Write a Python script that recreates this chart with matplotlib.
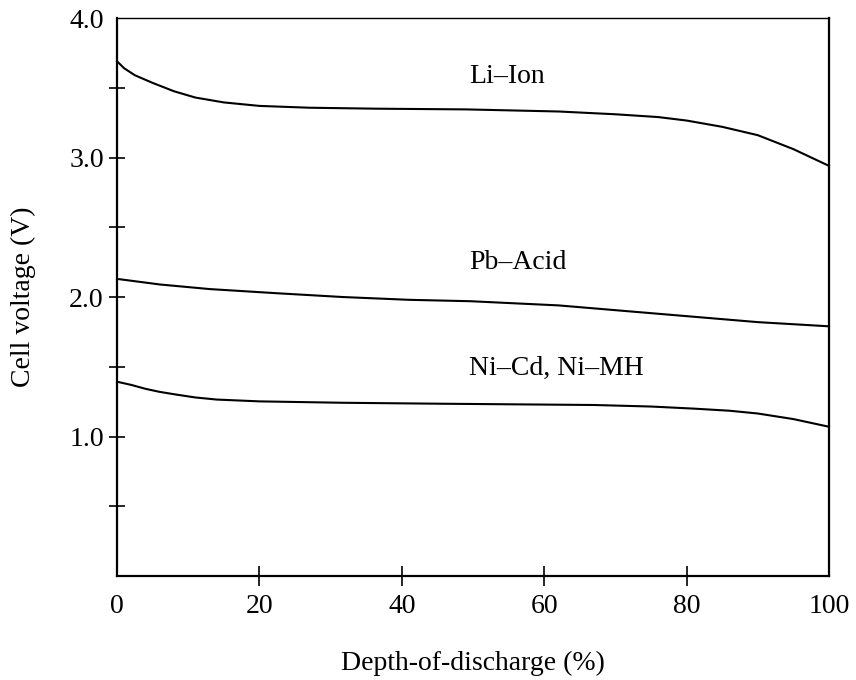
import matplotlib
matplotlib.use("Agg")
import matplotlib.pyplot as plt

# Datos: profundidad de descarga (%) y tensión de celda (V)
li_x = [0, 1, 2.5, 5, 8, 11, 15, 20, 27, 36.5, 49, 62, 70, 76, 80, 85, 90, 95, 100]
li_v = [3.69, 3.64, 3.59, 3.535, 3.475, 3.43, 3.395, 3.37, 3.357, 3.35, 3.345, 3.33,
        3.31, 3.29, 3.265, 3.22, 3.16, 3.06, 2.94]

pb_x = [0, 6, 13, 22.5, 31.7, 41, 49.6, 62, 76, 90, 100]
pb_v = [2.13, 2.09, 2.057, 2.027, 2.00, 1.98, 1.97, 1.94, 1.88, 1.82, 1.79]

ni_x = [0, 2, 4, 6, 8.4, 11, 14, 20, 31.7, 45.8, 67, 75, 81, 86, 90, 95, 100]
ni_v = [1.393, 1.37, 1.342, 1.32, 1.30, 1.28, 1.265, 1.252, 1.242, 1.235, 1.226,
        1.215, 1.20, 1.185, 1.165, 1.125, 1.07]

names = ["Li–Ion", "Pb–Acid", "Ni–Cd, Ni–MH"]
name_pos = [(49.5, 3.58), (49.5, 2.25), (49.5, 1.49)]

x_ticks = [0, 20, 40, 60, 80, 100]
y_major = [1.0, 2.0, 3.0, 4.0]
y_minor = [0.5, 1.5, 2.5, 3.5]

plt.rcParams['font.family'] = ['Liberation Serif', 'DejaVu Serif']

fig = plt.figure(figsize=(8.56, 6.8), dpi=100)
ax = fig.add_axes([0.1367, 0.1529, 0.8318, 0.8206])

for xs, vs in [(li_x, li_v), (pb_x, pb_v), (ni_x, ni_v)]:
    ax.plot(xs, vs, color='black', linewidth=1.5, clip_on=False)

for name, (tx, ty) in zip(names, name_pos):
    ax.text(tx, ty, name, fontsize=20, ha='left', va='center')

ax.set_xlim(0, 100)
ax.set_ylim(0, 4.0)
ax.set_xticks(x_ticks)
ax.set_xticklabels([str(t) for t in x_ticks])
ax.set_yticks(y_major)
ax.set_yticklabels([f"{t:.1f}" for t in y_major])
ax.set_yticks(y_minor, minor=True)

ax.tick_params(axis='x', which='major', direction='inout', length=14, width=1.2,
               labelsize=20, pad=6)
ax.tick_params(axis='y', which='both', direction='inout', length=11, width=1.2,
               labelsize=20, pad=4)
ax.xaxis.get_major_ticks()[0].tick1line.set_visible(False)
ax.xaxis.get_major_ticks()[-1].tick1line.set_visible(False)
ax.yaxis.get_major_ticks()[-1].tick1line.set_visible(False)

for side in ['left', 'bottom', 'right']:
    ax.spines[side].set_linewidth(1.6)
ax.spines['top'].set_linewidth(1.0)

ax.set_xlabel("Depth-of-discharge (%)", fontsize=20, labelpad=23)
ax.set_ylabel("Cell voltage (V)", fontsize=20, labelpad=24)

fig.savefig("out.png", dpi=100)
